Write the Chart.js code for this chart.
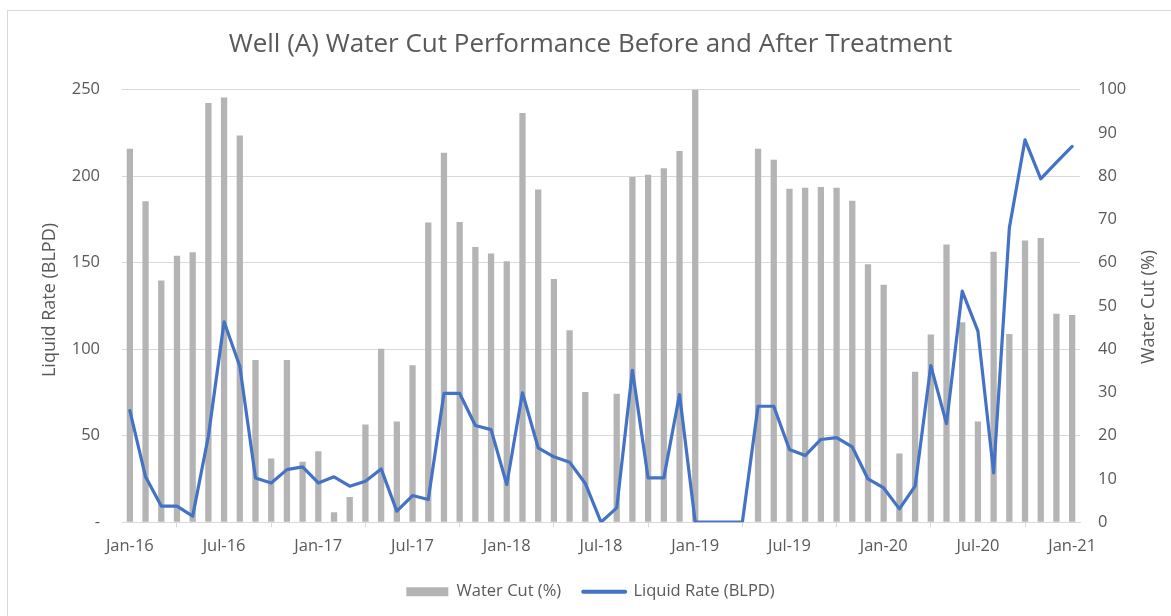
<!DOCTYPE html>
<html>
<head>
<meta charset="utf-8">
<script src="https://cdn.jsdelivr.net/npm/chart.js@4/dist/chart.umd.min.js"></script>
<style>
    html, body { margin: 0; padding: 0; background: #fff; overflow: hidden; }
    .frame {
        position: absolute; left: 7px; top: 10px;
        width: 1300px; height: 700px;
        border: 1px solid #d9d9d9;
    }
    .wrap { position: absolute; left: 0; top: 0; width: 1171px; height: 616px; }
</style>
</head>
<body>
<div class="frame"></div>
<div class="wrap"><canvas id="wellChart" width="1171" height="616"></canvas></div>
<script>
// Monthly categories, Jan-16 .. Jan-21
const months = [
    'Jan-16', 'Feb-16', 'Mar-16', 'Apr-16', 'May-16', 'Jun-16', 'Jul-16', 'Aug-16', 'Sep-16', 'Oct-16', 'Nov-16', 'Dec-16',
    'Jan-17', 'Feb-17', 'Mar-17', 'Apr-17', 'May-17', 'Jun-17', 'Jul-17', 'Aug-17', 'Sep-17', 'Oct-17', 'Nov-17', 'Dec-17',
    'Jan-18', 'Feb-18', 'Mar-18', 'Apr-18', 'May-18', 'Jun-18', 'Jul-18', 'Aug-18', 'Sep-18', 'Oct-18', 'Nov-18', 'Dec-18',
    'Jan-19', 'Feb-19', 'Mar-19', 'Apr-19', 'May-19', 'Jun-19', 'Jul-19', 'Aug-19', 'Sep-19', 'Oct-19', 'Nov-19', 'Dec-19',
    'Jan-20', 'Feb-20', 'Mar-20', 'Apr-20', 'May-20', 'Jun-20', 'Jul-20', 'Aug-20', 'Sep-20', 'Oct-20', 'Nov-20', 'Dec-20',
    'Jan-21'
];

// Water cut (%), right axis
const waterCut = [
    86.3, 74.2, 55.9, 61.6, 62.4, 96.9, 98.2, 89.4, 37.5, 14.7, 37.5, 14.0,
    16.4, 2.3, 5.8, 22.6, 40.1, 23.3, 36.3, 69.3, 85.4, 69.4, 63.6, 62.1,
    60.3, 94.6, 76.9, 56.2, 44.4, 30.1, null, 29.7, 79.8, 80.3, 81.8, 85.8,
    100, null, null, null, 86.3, 83.8, 77.1, 77.3, 77.5, 77.3, 74.3, 59.6,
    54.9, 15.9, 34.8, 43.4, 64.2, 46.2, 23.3, 62.5, 43.5, 65.1, 65.7, 48.2,
    47.9
];

// Liquid rate (BLPD), left axis
const liquidRate = [
    64.5, 26.2, 9.3, 9.3, 3.5, 49.7, 115.8, 90.1, 25.6, 22.7, 30.4, 32.0,
    22.7, 26.2, 20.8, 23.7, 30.8, 6.4, 15.4, 13.1, 74.4, 74.4, 55.9, 53.5,
    21.8, 74.8, 43.0, 37.8, 34.7, 22.4, 0, 8.3, 87.8, 25.6, 25.6, 73.8,
    0, 0, 0, 0, 67.0, 67.0, 42.0, 38.5, 47.8, 48.9, 43.5, 25.0,
    19.8, 7.7, 20.8, 90.5, 57.0, 133.5, 110.4, 28.5, 170.0, 221.0, 198.4, 208.0,
    217.2
];

const TEXT = '#595959';
const GRID = '#d9d9d9';
const FONT = '"Open Sans", "DejaVu Sans", sans-serif';

Chart.defaults.font.family = FONT;
Chart.defaults.color = TEXT;

// both axis titles read bottom-to-top, like the Excel original
const axisTitles = {
    id: 'axisTitles',
    afterDraw(chart) {
        const { ctx, chartArea } = chart;
        const items = [
            { text: 'Liquid Rate (BLPD)', x: 50, y: 300 },
            { text: 'Water Cut (%)', x: 1148.5, y: 307 }
        ];
        ctx.save();
        ctx.fillStyle = TEXT;
        ctx.font = '18px ' + FONT;
        ctx.textAlign = 'center';
        ctx.textBaseline = 'middle';
        items.forEach(t => {
            ctx.save();
            ctx.translate(t.x, t.y);
            ctx.rotate(-Math.PI / 2);
            ctx.fillText(t.text, 0, 0);
            ctx.restore();
        });
        ctx.restore();
    }
};

const ctx = document.getElementById('wellChart');
new Chart(ctx, {
    type: 'bar',
    data: {
        labels: months,
        datasets: [{
            type: 'bar',
            label: 'Water Cut (%)',
            data: waterCut,
            yAxisID: 'yRight',
            backgroundColor: '#b4b4b4',
            borderWidth: 0,
            barPercentage: 0.4,
            categoryPercentage: 1,
            order: 1
        }, {
            type: 'line',
            label: 'Liquid Rate (BLPD)',
            data: liquidRate,
            yAxisID: 'yLeft',
            borderColor: '#4472c4',
            backgroundColor: '#4472c4',
            borderWidth: 3.2,
            borderJoinStyle: 'round',
            borderCapStyle: 'round',
            pointRadius: 0,
            tension: 0,
            fill: false,
            order: 0
        }]
    },
    options: {
        responsive: false,
        animation: false,
        layout: { padding: { left: 10, right: 0, top: 0, bottom: 6 } },
        plugins: {
            title: {
                display: true,
                text: 'Well (A) Water Cut Performance Before and After Treatment',
                color: TEXT,
                font: { size: 26, weight: 'normal' },
                padding: { top: 29.4, bottom: 29 }
            },
            legend: {
                position: 'bottom',
                labels: {
                    color: TEXT,
                    font: { size: 16.5 },
                    usePointStyle: true,
                    pointStyleWidth: 42,
                    boxWidth: 42,
                    boxHeight: 9,
                    padding: 22,
                    sort: (a, b) => a.datasetIndex - b.datasetIndex,
                    generateLabels: (chart) => {
                        const items = Chart.defaults.plugins.legend.labels.generateLabels(chart);
                        items.forEach(item => {
                            if (item.datasetIndex === 0) {
                                item.pointStyle = 'rect';
                                item.lineWidth = 0;
                            } else {
                                item.pointStyle = 'line';
                                item.lineWidth = 4;
                                item.lineCap = 'round';
                            }
                        });
                        return items;
                    }
                }
            },
            tooltip: { enabled: false }
        },
        scales: {
            x: {
                offset: true,
                afterFit: (scale) => { scale.height = 39.3; },
                grid: {
                    offset: true,
                    drawOnChartArea: false,
                    drawTicks: true,
                    tickLength: 5,
                    color: GRID
                },
                border: { color: GRID },
                ticks: {
                    autoSkip: false,
                    maxRotation: 0,
                    padding: 9.3,
                    font: { size: 16.5 },
                    color: TEXT,
                    callback: function (value, index) {
                        return index % 6 === 0 ? this.getLabelForValue(value) : null;
                    }
                }
            },
            yLeft: {
                position: 'left',
                min: 0,
                max: 250,
                afterFit: (scale) => { scale.width = 112; },
                grid: { color: GRID, drawTicks: false },
                border: { display: false },
                ticks: {
                    stepSize: 50,
                    padding: 22,
                    font: { size: 16.5 },
                    color: TEXT,
                    callback: (value) => value === 0 ? '-' : value
                }
            },
            yRight: {
                position: 'right',
                min: 0,
                max: 100,
                afterFit: (scale) => { scale.width = 91; },
                grid: { drawOnChartArea: false, drawTicks: false },
                border: { display: false },
                ticks: {
                    stepSize: 10,
                    padding: 18,
                    font: { size: 16.5 },
                    color: TEXT
                }
            }
        }
    },
    plugins: [axisTitles]
});
</script>
</body>
</html>
